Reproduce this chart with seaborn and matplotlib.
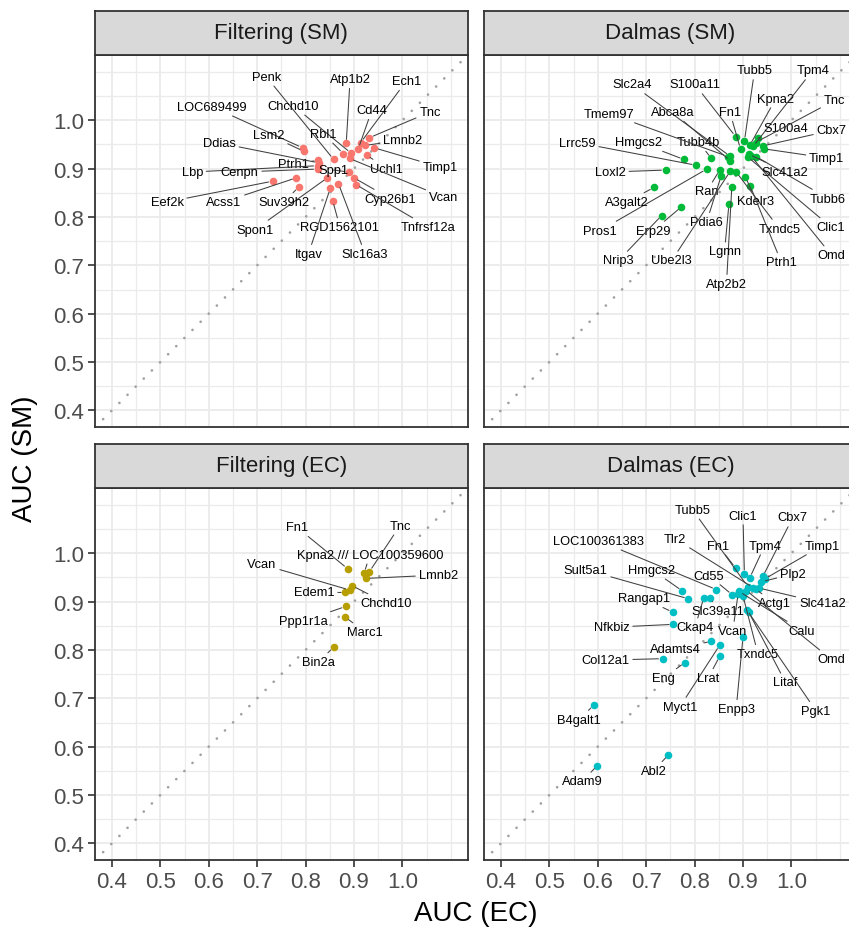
import matplotlib
matplotlib.use("Agg")
import matplotlib.pyplot as plt
import numpy as np
import pandas as pd
import seaborn as sns

# ---------------- data: AUC on EC (x) vs AUC on SM (y) ----------------
filt_sm_genes = ["LOC689499", "Lsm2", "Penk", "Atp1b2", "Ech1", "Cd44", "Tnc", "Lmnb2",
                 "Timp1", "Uchl1", "Chchd10", "Vcan", "Rbl1", "Ptrh1", "Ddias", "Lbp",
                 "Cenpn", "Spp1", "Spon1", "Eef2k", "Acss1", "Suv39h2", "Cyp26b1",
                 "Tnfrsf12a", "RGD1562101", "Itgav", "Slc16a3"]
filt_sm_ec = [0.794, 0.796, 0.858, 0.884, 0.914, 0.909, 0.932, 0.923,
              0.942, 0.926, 0.894, 0.891, 0.878, 0.826, 0.827, 0.825,
              0.825, 0.889, 0.845, 0.732, 0.781, 0.786, 0.900,
              0.904, 0.856, 0.851, 0.868]
filt_sm_sm = [0.943, 0.936, 0.919, 0.952, 0.954, 0.941, 0.964, 0.948,
              0.943, 0.928, 0.932, 0.921, 0.931, 0.917, 0.912, 0.906,
              0.899, 0.893, 0.881, 0.874, 0.881, 0.862, 0.881,
              0.867, 0.834, 0.859, 0.869]

dal_sm_genes = ["S100a11", "Tubb5", "Fn1", "Kpna2", "Tpm4", "S100a4", "Cbx7", "Timp1",
                "Tnc", "Clic1", "Tubb6", "Omd", "Slc41a2", "Slc2a4", "Abca8a", "Tubb4b",
                "Tmem97", "Hmgcs2", "Lrrc59", "Loxl2", "Pros1", "Ran", "Pdia6", "Ube2l3",
                "Txndc5", "Kdelr3", "Ptrh1", "Atp2b2", "Lgmn", "Erp29", "Nrip3", "A3galt2"]
dal_sm_ec = [0.885, 0.903, 0.895, 0.914, 0.921, 0.931, 0.941, 0.943,
             0.926, 0.910, 0.927, 0.917, 0.912, 0.873, 0.874, 0.835,
             0.869, 0.778, 0.803, 0.740, 0.825, 0.852, 0.855, 0.874,
             0.886, 0.905, 0.915, 0.877, 0.871, 0.773, 0.732, 0.716]
dal_sm_sm = [0.966, 0.957, 0.940, 0.948, 0.946, 0.963, 0.947, 0.941,
             0.954, 0.924, 0.925, 0.926, 0.930, 0.926, 0.916, 0.921,
             0.925, 0.919, 0.907, 0.897, 0.899, 0.897, 0.885, 0.895,
             0.893, 0.883, 0.864, 0.863, 0.826, 0.821, 0.803, 0.861]

filt_ec_genes = ["Fn1", "Tnc", "Kpna2 /// LOC100359600", "Lmnb2", "Chchd10", "Vcan",
                 "Edem1", "Ppp1r1a", "Marc1", "Bin2a"]
filt_ec_ec = [0.887, 0.932, 0.921, 0.925, 0.896, 0.891, 0.882, 0.883, 0.882, 0.858]
filt_ec_sm = [0.968, 0.962, 0.959, 0.948, 0.933, 0.924, 0.919, 0.890, 0.868, 0.806]

dal_ec_genes = ["Fn1", "Clic1", "Tpm4", "Cbx7", "Timp1", "Plp2", "Tlr2", "Tubb5",
                "Slc41a2", "Actg1", "Calu", "Omd", "Cd55", "Vcan", "Txndc5", "Litaf",
                "Pgk1", "LOC100361383", "Slc39a11", "Ckap4", "Sult5a1", "Hmgcs2",
                "Rangap1", "Nfkbiz", "Adamts4", "Myct1", "Lrat", "Col12a1", "Eng",
                "Enpp3", "B4galt1", "Adam9", "Abl2"]
dal_ec_ec = [0.885, 0.903, 0.914, 0.941, 0.945, 0.938, 0.921, 0.910,
             0.933, 0.926, 0.892, 0.907, 0.878, 0.890, 0.900, 0.912,
             0.908, 0.845, 0.832, 0.819, 0.787, 0.775,
             0.755, 0.756, 0.835, 0.852, 0.852, 0.734, 0.780,
             0.900, 0.592, 0.599, 0.746]
dal_ec_sm = [0.969, 0.957, 0.949, 0.952, 0.947, 0.941, 0.929, 0.931,
             0.928, 0.926, 0.921, 0.923, 0.914, 0.916, 0.912, 0.878,
             0.883, 0.925, 0.908, 0.908, 0.906, 0.922,
             0.878, 0.853, 0.818, 0.810, 0.787, 0.782, 0.774,
             0.826, 0.686, 0.561, 0.583]

panel_titles = ["Filtering (SM)", "Dalmas (SM)", "Filtering (EC)", "Dalmas (EC)"]
panel_colors = ["#F8766D", "#00BA38", "#B79F00", "#00BFC4"]

# ---------------- label placement (repelled text positions) ----------------
filt_sm_text = {
    "Penk": (0.719, 1.090), "Atp1b2": (0.892, 1.085), "Ech1": (1.008, 1.081),
    "LOC689499": (0.607, 1.028), "Chchd10": (0.775, 1.030), "Cd44": (0.937, 1.021),
    "Tnc": (1.057, 1.017), "Lsm2": (0.724, 0.970), "Rbl1": (0.837, 0.972),
    "Lmnb2": (1.000, 0.959), "Ddias": (0.622, 0.953), "Ptrh1": (0.774, 0.910),
    "Uchl1": (0.968, 0.900), "Timp1": (1.078, 0.903), "Lbp": (0.566, 0.893),
    "Cenpn": (0.664, 0.893), "Spp1": (0.858, 0.897), "Vcan": (1.085, 0.841),
    "Eef2k": (0.514, 0.831), "Acss1": (0.631, 0.831), "Suv39h2": (0.755, 0.831),
    "Cyp26b1": (0.975, 0.838), "Spon1": (0.696, 0.774), "RGD1562101": (0.871, 0.779),
    "Tnfrsf12a": (1.054, 0.779), "Itgav": (0.806, 0.724), "Slc16a3": (0.923, 0.724),
}
dal_sm_text = {
    "Tubb5": (0.924, 1.103), "Tpm4": (1.044, 1.103), "Slc2a4": (0.671, 1.074),
    "S100a11": (0.801, 1.074), "Kpna2": (0.968, 1.045), "Tnc": (1.089, 1.041),
    "Tmem97": (0.623, 1.014), "Abca8a": (0.755, 1.017), "Fn1": (0.873, 1.017),
    "S100a4": (0.989, 0.983), "Cbx7": (1.083, 0.979), "Lrrc59": (0.558, 0.954),
    "Hmgcs2": (0.684, 0.955), "Tubb4b": (0.808, 0.955), "Timp1": (1.073, 0.922),
    "Loxl2": (0.626, 0.893), "Slc41a2": (0.986, 0.894), "Ran": (0.825, 0.853),
    "A3galt2": (0.660, 0.831), "Kdelr3": (0.927, 0.834), "Tubb6": (1.076, 0.838),
    "Pros1": (0.605, 0.772), "Erp29": (0.715, 0.772), "Pdia6": (0.825, 0.790),
    "Txndc5": (0.975, 0.776), "Clic1": (1.082, 0.779), "Nrip3": (0.643, 0.710),
    "Ube2l3": (0.753, 0.710), "Lgmn": (0.862, 0.729), "Ptrh1": (0.979, 0.707),
    "Omd": (1.083, 0.721), "Atp2b2": (0.866, 0.662),
}
filt_ec_text = {
    "Fn1": (0.782, 1.054), "Tnc": (0.995, 1.057), "Kpna2 /// LOC100359600": (0.933, 0.997),
    "Vcan": (0.710, 0.977), "Lmnb2": (1.074, 0.955), "Edem1": (0.818, 0.919),
    "Chchd10": (0.966, 0.897), "Ppp1r1a": (0.796, 0.860), "Marc1": (0.923, 0.837),
    "Bin2a": (0.827, 0.775),
}
dal_ec_text = {
    "Tubb5": (0.796, 1.090), "Clic1": (0.900, 1.078), "Cbx7": (1.003, 1.074),
    "LOC100361383": (0.602, 1.026), "Tlr2": (0.760, 1.030), "Fn1": (0.849, 1.016),
    "Tpm4": (0.945, 1.016), "Timp1": (1.064, 1.016), "Sult5a1": (0.575, 0.966),
    "Hmgcs2": (0.712, 0.966), "Cd55": (0.830, 0.954), "Plp2": (1.003, 0.957),
    "Rangap1": (0.695, 0.907), "Slc39a11": (0.849, 0.881), "Actg1": (0.965, 0.897),
    "Slc41a2": (1.064, 0.897), "Nfkbiz": (0.629, 0.847), "Ckap4": (0.801, 0.847),
    "Vcan": (0.879, 0.840), "Calu": (1.022, 0.840), "Adamts4": (0.760, 0.802),
    "Txndc5": (0.931, 0.792), "Omd": (1.082, 0.781), "Col12a1": (0.616, 0.779),
    "Eng": (0.736, 0.742), "Lrat": (0.828, 0.742), "Litaf": (0.988, 0.733),
    "Myct1": (0.770, 0.683), "Enpp3": (0.886, 0.678), "Pgk1": (1.051, 0.674),
    "B4galt1": (0.561, 0.656), "Adam9": (0.568, 0.528), "Abl2": (0.715, 0.550),
}

panel_data = [
    (filt_sm_genes, filt_sm_ec, filt_sm_sm, filt_sm_text),
    (dal_sm_genes, dal_sm_ec, dal_sm_sm, dal_sm_text),
    (filt_ec_genes, filt_ec_ec, filt_ec_sm, filt_ec_text),
    (dal_ec_genes, dal_ec_ec, dal_ec_sm, dal_ec_text),
]

frames = []
for title, (genes, ec, sm, _) in zip(panel_titles, panel_data):
    frames.append(pd.DataFrame({"panel": title, "gene": genes, "ec": ec, "sm": sm}))
df = pd.concat(frames, ignore_index=True)

# ---------------- styling ----------------
sns.set_theme(style="white")
plt.rcParams["font.family"] = ["Liberation Sans", "DejaVu Sans"]

W, H = 849, 928
fig = plt.figure(figsize=(W / 100, H / 100), dpi=100)

PW, PH = 372.7, 372.3
STRIP_H = 44.5
origins = [(95, 56), (484, 56), (95, 489), (484, 489)]   # panel top-left in px
LIM = (0.365, 1.135)
major = np.round(np.arange(0.4, 1.01, 0.1), 2)
minor = np.round(np.arange(0.45, 1.11, 0.1), 2)
minor = np.concatenate([minor, [1.1]])
BORDER = "#333333"

def box(x0, top, w, h):
    return [x0 / W, 1 - (top + h) / H, w / W, h / H]

for i, (title, color, (genes, ec, sm, text_pos)) in enumerate(
        zip(panel_titles, panel_colors, panel_data)):
    x0, top = origins[i]
    ax = fig.add_axes(box(x0, top, PW, PH))
    ax.set_xlim(*LIM)
    ax.set_ylim(*LIM)
    ax.set_facecolor("white")

    ax.set_xticks(major)
    ax.set_yticks(major)
    ax.set_xticks(minor, minor=True)
    ax.set_yticks(minor, minor=True)
    ax.grid(which="major", color="#EBEBEB", linewidth=1.3, zorder=0)
    ax.grid(which="minor", color="#EBEBEB", linewidth=0.9, zorder=0)
    ax.set_axisbelow(True)
    for s in ax.spines.values():
        s.set_color(BORDER)
        s.set_linewidth(1.3)

    col, row = i % 2, i // 2
    ax.tick_params(which="major", length=5, width=1.2, color=BORDER,
                   labelsize=16, labelcolor="#4D4D4D", pad=3,
                   left=(col == 0), labelleft=(col == 0),
                   bottom=(row == 1), labelbottom=(row == 1))
    ax.tick_params(which="minor", length=0)
    ax.xaxis.set_major_formatter(matplotlib.ticker.FormatStrFormatter("%.1f"))
    ax.yaxis.set_major_formatter(matplotlib.ticker.FormatStrFormatter("%.1f"))

    # identity line, drawn as round dots
    ax.axline((0.5, 0.5), slope=1, color="#A0A0A0", linewidth=1.9,
              linestyle=(0, (0.05, 4.3)), dash_capstyle="round", zorder=1)

    sub = df[df["panel"] == title]
    sns.scatterplot(data=sub, x="ec", y="sm", color=color, s=30, linewidth=0,
                    ax=ax, legend=False, zorder=3)
    ax.set_xlabel("")
    ax.set_ylabel("")

    for g, xv, yv in zip(genes, ec, sm):
        tx, ty = text_pos[g]
        ax.annotate(g, xy=(xv, yv), xytext=(tx, ty), textcoords="data",
                    ha="center", va="center", fontsize=9.3, color="black", zorder=5,
                    arrowprops=dict(arrowstyle="-", color="#404040", lw=0.75,
                                    shrinkA=0, shrinkB=3))

    # facet strip
    sax = fig.add_axes(box(x0, top - STRIP_H, PW, STRIP_H))
    sax.set_facecolor("#D9D9D9")
    sax.set_xticks([])
    sax.set_yticks([])
    for s in sax.spines.values():
        s.set_color(BORDER)
        s.set_linewidth(1.3)
    sax.text(0.5, 0.5, title, ha="center", va="center", fontsize=16,
             color="#1A1A1A", transform=sax.transAxes)

fig.text(25 / W, 1 - 458.5 / H, "AUC (SM)", rotation=90, ha="center", va="center",
         fontsize=20, color="black")
fig.text(476 / W, 1 - 914 / H, "AUC (EC)", ha="center", va="center",
         fontsize=20, color="black")

fig.savefig("out.png", dpi=100, facecolor="white")
